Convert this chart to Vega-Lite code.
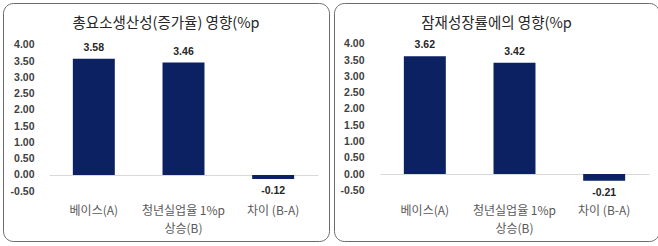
{
  "$schema": "https://vega.github.io/schema/vega-lite/v6.json",
  "padding": {"left": 2, "top": 2, "right": 0, "bottom": 0},
  "spacing": 3,
  "background": "white",
  "data": {
    "values": [
      {"panel": "A", "category": "베이스(A)", "value": 3.58},
      {"panel": "A", "category": "청년실업율 1%p 상승(B)", "value": 3.46},
      {"panel": "A", "category": "차이 (B-A)", "value": -0.12},
      {"panel": "B", "category": "베이스(A)", "value": 3.62},
      {"panel": "B", "category": "청년실업율 1%p 상승(B)", "value": 3.42},
      {"panel": "B", "category": "차이 (B-A)", "value": -0.21}
    ]
  },
  "config": {
    "locale": {"number": {"decimal": ".", "thousands": ",", "grouping": [3], "currency": ["$", ""], "minus": "-"}},
    "view": {"stroke": "#6b6b6b", "strokeWidth": 1, "cornerRadius": 10},
    "font": "Noto Sans CJK KR",
    "title": {"fontSize": 14.5, "fontWeight": "normal", "color": "#262626", "anchor": "middle", "frame": "group", "font": "Noto Sans CJK KR"}
  },
  "hconcat": [
    {
      "width": 326,
      "height": 238,
      "title": {"text": "총요소생산성(증가율) 영향(%p", "offset": -28},
      "transform": [{"filter": "datum.panel == 'A'"}],
      "encoding": {
        "x": {
          "field": "category", "type": "nominal", "sort": null,
          "scale": {"range": [46, 315], "paddingInner": 0.532, "paddingOuter": 0.266},
          "axis": {
            "orient": "bottom", "offset": -66, "domainColor": "#d9d9d9", "domainWidth": 1,
            "ticks": false, "tickSize": 0, "labelPadding": 30, "labelAngle": 0,
            "labelFont": "Noto Sans CJK KR", "labelFontSize": 12, "labelColor": "#595959",
            "labelLineHeight": 18, "labelLimit": 0, "grid": false, "title": null,
            "labelExpr": "datum.label == '청년실업율 1%p 상승(B)' ? ['청년실업율 1%p', '상승(B)'] : datum.label"
          }
        },
        "y": {
          "field": "value", "type": "quantitative",
          "scale": {"domain": [-2.0308, 5.2923], "nice": false, "zero": false},
          "axis": {
            "values": [-0.5, 0, 0.5, 1, 1.5, 2, 2.5, 3, 3.5, 4], "format": ".2f",
            "orient": "left", "offset": -31, "domain": false, "ticks": false, "tickSize": 0,
            "labelPadding": 0, "grid": false, "title": null,
            "labelFont": "Liberation Sans", "labelFontWeight": "bold", "labelFontSize": 10.5, "labelColor": "#404040"
          }
        }
      },
      "layer": [
        {"mark": {"type": "bar", "color": "#0b2161"}},
        {
          "transform": [{"filter": "datum.value >= 0"}],
          "mark": {"type": "text", "font": "Liberation Sans", "fontWeight": "bold", "fontSize": 10.5, "color": "#262626", "baseline": "middle", "dy": -11},
          "encoding": {"text": {"field": "value", "type": "quantitative", "format": ".2f"}}
        },
        {
          "transform": [{"filter": "datum.value < 0"}],
          "mark": {"type": "text", "font": "Liberation Sans", "fontWeight": "bold", "fontSize": 10.5, "color": "#262626", "baseline": "middle", "dy": 12},
          "encoding": {"text": {"field": "value", "type": "quantitative", "format": ".2f"}}
        }
      ]
    },
    {
      "width": 325,
      "height": 238,
      "title": {"text": "잠재성장률에의 영향(%p", "offset": -28},
      "transform": [{"filter": "datum.panel == 'B'"}],
      "encoding": {
        "x": {
          "field": "category", "type": "nominal", "sort": null,
          "scale": {"range": [46, 315], "paddingInner": 0.532, "paddingOuter": 0.266},
          "axis": {
            "orient": "bottom", "offset": -67, "domainColor": "#d9d9d9", "domainWidth": 1,
            "ticks": false, "tickSize": 0, "labelPadding": 31, "labelAngle": 0,
            "labelFont": "Noto Sans CJK KR", "labelFontSize": 12, "labelColor": "#595959",
            "labelLineHeight": 18, "labelLimit": 0, "grid": false, "title": null,
            "labelExpr": "datum.label == '청년실업율 1%p 상승(B)' ? ['청년실업율 1%p', '상승(B)'] : datum.label"
          }
        },
        "y": {
          "field": "value", "type": "quantitative",
          "scale": {"domain": [-2.0615, 5.2615], "nice": false, "zero": false},
          "axis": {
            "values": [-0.5, 0, 0.5, 1, 1.5, 2, 2.5, 3, 3.5, 4], "format": ".2f",
            "orient": "left", "offset": -30, "domain": false, "ticks": false, "tickSize": 0,
            "labelPadding": 0, "grid": false, "title": null,
            "labelFont": "Liberation Sans", "labelFontWeight": "bold", "labelFontSize": 10.5, "labelColor": "#404040"
          }
        }
      },
      "layer": [
        {"mark": {"type": "bar", "color": "#0b2161"}},
        {
          "transform": [{"filter": "datum.value >= 0"}],
          "mark": {"type": "text", "font": "Liberation Sans", "fontWeight": "bold", "fontSize": 10.5, "color": "#262626", "baseline": "middle", "dy": -11},
          "encoding": {"text": {"field": "value", "type": "quantitative", "format": ".2f"}}
        },
        {
          "transform": [{"filter": "datum.value < 0"}],
          "mark": {"type": "text", "font": "Liberation Sans", "fontWeight": "bold", "fontSize": 10.5, "color": "#262626", "baseline": "middle", "dy": 12},
          "encoding": {"text": {"field": "value", "type": "quantitative", "format": ".2f"}}
        }
      ]
    }
  ]
}
